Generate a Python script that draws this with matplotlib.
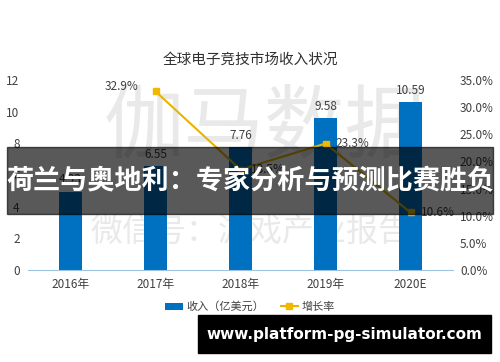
#!/usr/bin/env python3
''' Global esports market revenue chart with overlay banner. '''
import numpy as np
import matplotlib
matplotlib.use('Agg')
import matplotlib.pyplot as plt

plt.rcParams['font.family'] = ['Noto Sans CJK SC', 'DejaVu Sans']

years = ['2016年', '2017年', '2018年', '2019年', '2020E']
revenue = [4.93, 6.55, 7.76, 9.58, 10.59]
growth = [None, 32.9, 18.5, 23.3, 10.6]
left_ticks = [0, 2, 4, 6, 8, 10, 12]
right_ticks = [0, 5, 10, 15, 20, 25, 30, 35]

BAR = '#0070c0'
LINE = '#e8b400'
TXT = '#404040'


def main():
  fig = plt.figure(figsize=(5, 3.62), dpi=100)
  ax = fig.add_axes([0.056, 0.254, 0.85, 0.525])
  ax2 = ax.twinx()

  # Faint watermark behind the chart.
  fig.text(0.53, 0.645, '伽马数据', ha='center', va='center', fontsize=58,
           color='#e9e9e9', zorder=0)
  fig.text(0.5, 0.36, '微信号：游戏产业报告', ha='center', va='center', fontsize=23,
           color='#e9e9e9', zorder=0)
  ax.set_zorder(1)
  ax2.set_zorder(2)
  ax.patch.set_visible(False)
  ax2.patch.set_visible(False)

  x = np.arange(len(years))
  ax.bar(x, revenue, width=0.27, color=BAR, label='收入（亿美元）', zorder=2)
  for xi, v in zip(x, revenue):
    ax.text(xi, v + 0.35, '%.2f' % v, ha='center', va='bottom', fontsize=8.5, color=TXT)
  ax.set_xlim(-0.5, 4.5)
  ax.set_ylim(0, 12)
  ax.set_yticks(left_ticks)
  ax.set_xticks(x)
  ax.set_xticklabels(years, fontsize=8.5, color=TXT)

  gx = [xi for xi, g in zip(x, growth) if g is not None]
  gy = [g for g in growth if g is not None]
  ax2.plot(gx, gy, color=LINE, linewidth=1.5, marker='s', markersize=4,
           markerfacecolor='#f2b800', markeredgecolor='#f2b800', label='增长率')
  for i, (xi, g) in enumerate(zip(gx, gy)):
    if i == 0:
      ax2.text(xi - 0.2, g + 0.9, '%.1f%%' % g, ha='right', va='center', fontsize=8.5, color=TXT)
    else:
      ax2.text(xi + 0.12, g, '%.1f%%' % g, ha='left', va='center', fontsize=8.5, color=TXT)
  ax2.set_ylim(0, 35)
  ax2.set_yticks(right_ticks)
  ax2.set_yticklabels(['%.1f%%' % t for t in right_ticks])

  for a in (ax, ax2):
    for s in ('top', 'left', 'right', 'bottom'):
      a.spines[s].set_visible(False)
    a.tick_params(length=0, labelsize=8.5, labelcolor=TXT)
  ax.spines['bottom'].set_visible(True)
  ax.spines['bottom'].set_color('#9dc3e0')
  ax.tick_params(axis='y', pad=6)
  ax.tick_params(axis='x', pad=6)
  ax2.tick_params(axis='y', pad=5)

  fig.text(0.5, 0.835, '全球电子竞技市场收入状况', ha='center', va='center',
           fontsize=10.5, color='#303030')

  # Legend.
  h1, l1 = ax.get_legend_handles_labels()
  h2, l2 = ax2.get_legend_handles_labels()
  fig.legend(h1 + h2, l1 + l2, loc='center', bbox_to_anchor=(0.5, 0.152), ncol=2,
             frameon=False, fontsize=8, handlelength=1.6, handletextpad=0.3,
             columnspacing=1.5, labelcolor=TXT)

  # Dark translucent banner with title.
  fig.patches.append(plt.Rectangle((0.014, 1 - 214 / 362), 0.972, 67 / 362,
                                   transform=fig.transFigure, color='black',
                                   alpha=0.65, zorder=5))
  fig.text(0.5, 1 - 181 / 362, '荷兰与奥地利：专家分析与预测比赛胜负', ha='center',
           va='center', fontsize=19.5, fontweight='bold', color='white', zorder=6)

  # Black URL box at the bottom.
  fig.patches.append(plt.Rectangle((198 / 500, 1 - 353 / 362), 293 / 500, 38 / 362,
                                   transform=fig.transFigure, color='black', zorder=5))
  fig.text(344 / 500, 1 - 334 / 362, 'www.platform-pg-simulator.com', ha='center',
           va='center', fontsize=11, fontweight='bold', color='white', zorder=6,
           family=['DejaVu Sans'])

  fig.savefig('out.png', dpi=100)


if __name__ == '__main__':
  main()
